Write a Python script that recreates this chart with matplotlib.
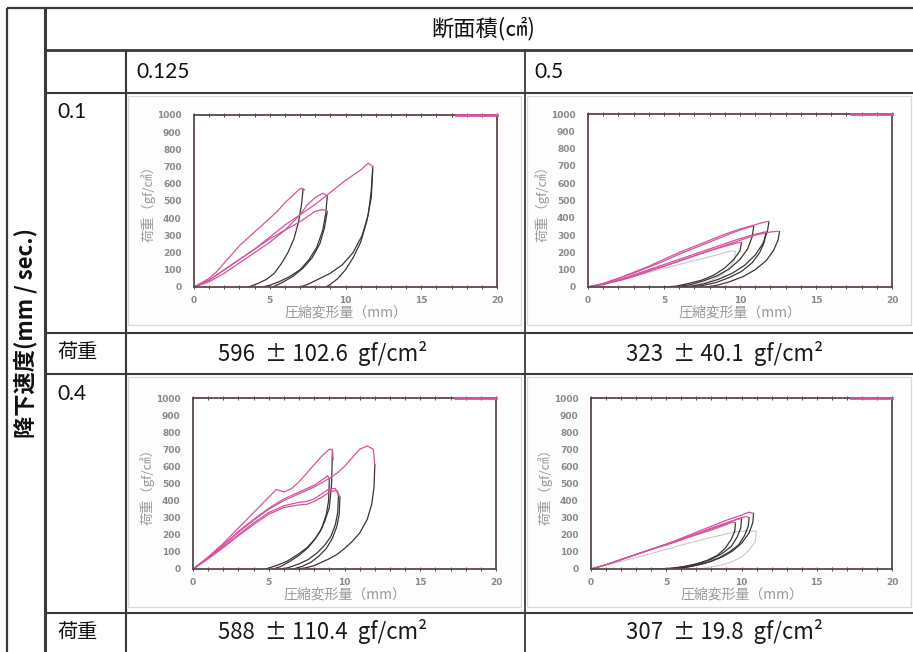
import matplotlib
matplotlib.use("Agg")
import matplotlib.pyplot as plt
from matplotlib.patches import Rectangle
from matplotlib.ticker import MultipleLocator

W, H = 913, 652

# ---------------- data ----------------
col_header = "断面積(㎠)"
row_header = "降下速度(mm / sec.)"
areas = ["0.125", "0.5"]
speeds = ["0.1", "0.4"]
load_label = "荷重"
load_values = [["596  ± 102.6  gf/cm²", "323  ± 40.1  gf/cm²"],
               ["588  ± 110.4  gf/cm²", "307  ± 19.8  gf/cm²"]]
x_label = "圧縮変形量（mm）"
y_label = "荷重（gf/㎠）"
x_ticks = [0, 5, 10, 15, 20]
y_ticks = [0, 100, 200, 300, 400, 500, 600, 700, 800, 900, 1000]
legend_x = [17.3, 20]
legend_y = [1000, 1000]

# panel: area 0.125, speed 0.1
p1_load = [
    ([0, 0.5, 1, 1.5, 2, 2.5, 3, 3.5, 4, 4.5, 5, 5.5, 6, 6.5, 6.9, 7.1, 7.3],
     [0, 25, 50, 90, 140, 190, 240, 280, 320, 360, 400, 440, 490, 530, 565, 575, 565]),
    ([0, 1, 2, 3, 4, 5, 6, 7, 7.5, 8, 8.5, 8.8],
     [0, 30, 80, 140, 200, 260, 330, 420, 480, 520, 545, 530]),
    ([0, 1, 2, 3, 4, 5, 6, 7, 7.5, 8, 8.5, 8.8],
     [0, 40, 100, 160, 220, 280, 330, 380, 410, 440, 450, 440]),
    ([0, 1, 2, 3, 4, 5, 6, 7, 8, 9, 10, 11, 11.5, 11.8],
     [0, 40, 100, 160, 220, 290, 360, 420, 480, 550, 620, 680, 720, 700]),
]
p1_unload = [
    ([7.2, 7.1, 6.9, 6.6, 6.2, 5.8, 5.3, 4.8, 4.2, 3.6],
     [570, 480, 380, 280, 200, 140, 80, 45, 20, 0]),
    ([8.8, 8.7, 8.5, 8.1, 7.6, 7.0, 6.3, 5.6, 5.0, 4.5],
     [530, 430, 330, 230, 160, 100, 60, 30, 10, 0]),
    ([8.8, 8.6, 8.3, 7.8, 7.2, 6.5, 5.8, 5.2],
     [440, 340, 250, 170, 110, 60, 25, 0]),
    ([11.8, 11.7, 11.5, 11.1, 10.5, 9.8, 9.0, 8.2, 7.5, 7.0],
     [700, 560, 420, 300, 200, 130, 80, 45, 15, 0]),
    ([11.8, 11.7, 11.4, 11.0, 10.5, 10.0, 9.5, 9.0, 8.7],
     [680, 520, 380, 260, 170, 100, 50, 15, 0]),
]
p1_gray = []

# panel: area 0.5, speed 0.1
p2_load = [
    ([0, 1, 2, 3, 4, 5, 6, 7, 8, 9, 10, 11, 11.6, 11.9],
     [0, 20, 50, 85, 120, 160, 200, 235, 270, 305, 335, 360, 375, 380]),
    ([0, 1, 2, 3, 4, 5, 6, 7, 8, 9, 10, 10.8],
     [0, 20, 50, 80, 115, 150, 190, 225, 260, 295, 330, 350]),
    ([0, 1, 2, 3, 4, 5, 6, 7, 8, 9, 10, 11, 12, 12.5],
     [0, 15, 40, 65, 95, 120, 150, 180, 210, 240, 270, 300, 318, 322]),
    ([0, 1, 2, 3, 4, 5, 6, 7, 8, 9, 10, 11, 11.6],
     [0, 15, 40, 70, 100, 130, 160, 190, 220, 250, 280, 305, 318]),
    ([0, 1, 2, 3, 4, 5, 6, 7, 8, 9, 9.8, 10.1],
     [0, 15, 35, 60, 90, 120, 150, 180, 210, 235, 255, 258]),
]
p2_unload = [
    ([11.9, 11.8, 11.5, 11.0, 10.3, 9.5, 8.6, 7.7, 6.8, 6.0],
     [375, 320, 250, 185, 125, 80, 45, 20, 5, 0]),
    ([10.9, 10.8, 10.5, 10, 9.3, 8.5, 7.6, 6.8, 6.0, 5.3],
     [350, 290, 220, 160, 105, 65, 35, 15, 3, 0]),
    ([12.6, 12.5, 12.2, 11.7, 11, 10.2, 9.3, 8.5, 7.8],
     [320, 270, 210, 150, 100, 60, 30, 10, 0]),
    ([11.7, 11.6, 11.3, 10.8, 10.1, 9.3, 8.4, 7.5, 6.8],
     [318, 260, 200, 140, 90, 55, 25, 8, 0]),
    ([10.1, 10.0, 9.6, 9.0, 8.3, 7.5, 6.6, 5.8, 5.0],
     [258, 210, 160, 110, 70, 40, 20, 5, 0]),
]
p2_gray = [
    ([0, 2, 4, 6, 8, 9.5, 9.7],
     [0, 40, 85, 130, 175, 210, 205]),
    ([9.7, 9.6, 9.2, 8.6, 7.9, 7.1, 6.3],
     [205, 150, 100, 60, 30, 10, 0]),
]

# panel: area 0.125, speed 0.4
p3_load = [
    ([0, 1, 2, 3, 4, 5, 5.5, 6, 6.5, 7, 7.5, 8, 8.5, 9, 9.2, 9.25],
     [0, 70, 150, 240, 330, 420, 465, 450, 470, 510, 560, 610, 660, 700, 700, 640]),
    ([0, 1, 2, 3, 4, 5, 6, 7, 8, 8.5, 8.9, 9.0],
     [0, 65, 140, 220, 290, 355, 410, 450, 490, 520, 545, 520]),
    ([0, 1, 2, 3, 4, 5, 6, 7, 8, 9, 9.5, 10, 10.5, 11, 11.5, 11.9, 12.0],
     [0, 65, 140, 215, 285, 350, 400, 440, 480, 530, 560, 600, 650, 700, 720, 700, 610]),
    ([0, 1, 2, 3, 4, 5, 6, 7, 7.5, 8, 8.5, 9, 9.4, 9.6],
     [0, 60, 130, 200, 270, 330, 370, 390, 395, 410, 440, 470, 470, 430]),
    ([0, 1, 2, 3, 4, 5, 6, 7, 7.5, 8, 8.5, 9, 9.5, 9.7],
     [0, 60, 125, 195, 260, 320, 360, 375, 378, 395, 420, 450, 460, 420]),
]
p3_unload = [
    ([9.2, 9.15, 9.0, 8.7, 8.4, 8.0, 7.5, 7.0, 6.2, 5.5, 4.8],
     [690, 500, 360, 280, 220, 170, 123, 90, 45, 20, 0]),
    ([9.0, 8.95, 8.8, 8.5, 8.1, 7.6, 7.0, 6.4, 5.8, 5.3],
     [520, 400, 320, 240, 180, 125, 80, 45, 15, 0]),
    ([12.0, 11.95, 11.8, 11.5, 11.0, 10.5, 10.0, 9.5, 9.0, 8.5, 8.0, 7.5, 7.0],
     [610, 480, 380, 290, 210, 160, 120, 85, 60, 40, 20, 8, 0]),
    ([9.6, 9.55, 9.4, 9.1, 8.7, 8.2, 7.6, 7.0, 6.3, 5.8],
     [430, 330, 260, 190, 140, 95, 55, 30, 8, 0]),
    ([9.7, 9.65, 9.5, 9.2, 8.8, 8.3, 7.8, 7.2, 6.6],
     [420, 320, 250, 180, 120, 75, 40, 15, 0]),
]
p3_gray = []

# panel: area 0.5, speed 0.4
p4_load = [
    ([0, 1, 2, 3, 4, 5, 6, 7, 8, 9, 10, 10.5, 10.8],
     [0, 25, 55, 85, 115, 145, 180, 215, 250, 285, 315, 332, 325]),
    ([0, 1, 2, 3, 4, 5, 6, 7, 8, 9, 9.8, 10.3, 10.5],
     [0, 25, 55, 85, 115, 145, 175, 205, 240, 270, 295, 307, 300]),
    ([0, 1, 2, 3, 4, 5, 6, 7, 8, 9, 9.7, 10.0],
     [0, 25, 55, 85, 115, 145, 175, 205, 235, 265, 290, 295]),
    ([0, 1, 2, 3, 4, 5, 6, 7, 8, 9, 9.4, 9.6],
     [0, 25, 55, 85, 115, 140, 170, 200, 228, 260, 275, 270]),
]
p4_unload = [
    ([10.8, 10.75, 10.5, 10.0, 9.4, 8.7, 8.0, 7.2, 6.3, 5.5, 4.8],
     [325, 270, 210, 150, 105, 70, 45, 25, 10, 3, 0]),
    ([10.5, 10.45, 10.2, 9.8, 9.2, 8.5, 7.8, 7.0, 6.2, 5.3, 4.5],
     [300, 250, 195, 140, 100, 65, 40, 22, 8, 2, 0]),
    ([10.0, 9.95, 9.7, 9.3, 8.7, 8.0, 7.3, 6.5, 5.7, 4.9, 4.2],
     [295, 240, 185, 130, 90, 57, 35, 18, 6, 1, 0]),
    ([9.6, 9.55, 9.3, 8.9, 8.4, 7.7, 7.0, 6.2, 5.4, 4.6, 3.9],
     [270, 220, 170, 120, 80, 50, 30, 15, 5, 1, 0]),
]
p4_gray = [
    ([0, 2, 4, 6, 8, 9.5, 10.5, 11],
     [0, 45, 90, 140, 185, 215, 225, 220]),
    ([11, 10.9, 10.5, 10, 9.3, 8.5, 7.5, 6.8],
     [220, 160, 110, 70, 40, 20, 5, 0]),
]

# ---------------- style ----------------
CJK = ["Noto Sans CJK JP", "DejaVu Sans"]
NUM = ["Lato", "DejaVu Sans"]
plt.rcParams["font.family"] = CJK

MAG = "#d6529c"
BLK = "#3b3535"
GRY = "#c8c8cc"
SPINE = "#5a4949"
LINE = "#3a3a3a"

fig = plt.figure(figsize=(W / 100, H / 100), dpi=100)
bg = fig.add_axes([0, 0, 1, 1])
bg.set_xlim(0, W)
bg.set_ylim(H, 0)
bg.axis("off")

def hline(y, x0, x1, lw=1.5):
    bg.plot([x0, x1], [y, y], color=LINE, lw=lw, solid_capstyle="butt")

def vline(x, y0, y1, lw=1.5):
    bg.plot([x, x], [y0, y1], color=LINE, lw=lw, solid_capstyle="butt")

# table grid
hline(8, 7, W, 1.6)
vline(7, 8, H, 1.6)
vline(45, 8, H, 2.2)
hline(50, 45, W, 2.0)
vline(126, 50, H, 1.5)
vline(525, 50, H, 1.3)
hline(93, 45, W, 1.5)
hline(333, 45, W, 1.5)
hline(374, 45, W, 1.5)
hline(613, 45, W, 1.5)

# chart image frames
for (x0, y0, x1, y1) in [(128, 96, 521, 325), (527, 96, 911, 325),
                         (128, 377, 521, 607), (527, 377, 911, 607)]:
    bg.add_patch(Rectangle((x0, y0), x1 - x0, y1 - y0, fill=True,
                           facecolor="#fdfdfe", edgecolor="#d9d9dc", lw=0.9))

# texts
bg.text(483, 29, col_header, ha="center", va="center", fontsize=16,
        family=CJK, color="#111")
bg.text(26, 333, row_header, ha="center", va="center", fontsize=16,
        family=CJK, fontweight="bold", rotation=90, color="#111")
bg.text(136, 72, areas[0], ha="left", va="center", fontsize=15, family=NUM, color="#111")
bg.text(534, 72, areas[1], ha="left", va="center", fontsize=15, family=NUM, color="#111")
bg.text(57, 112, speeds[0], ha="left", va="center", fontsize=15, family=NUM, color="#111")
bg.text(57, 394, speeds[1], ha="left", va="center", fontsize=15, family=NUM, color="#111")
for yy in (353, 633):
    bg.text(57, yy, load_label, ha="left", va="center", fontsize=14.5, family=CJK, color="#111")
cx = [323, 725]
cy = [353, 632]
for r in range(2):
    for c in range(2):
        bg.text(cx[c], cy[r], load_values[r][c], ha="center", va="center",
                fontsize=16, color="#1a1a1a", family=CJK)

# chart axes
def px_axes(x0, y0, x1, y1):
    return fig.add_axes([x0 / W, 1 - y1 / H, (x1 - x0) / W, (y1 - y0) / H])

panels = [
    ((194, 115, 497, 287), p1_load, p1_unload, p1_gray),
    ((588, 114, 892, 287), p2_load, p2_unload, p2_gray),
    ((193, 398, 496, 569), p3_load, p3_unload, p3_gray),
    ((591, 398, 892, 569), p4_load, p4_unload, p4_gray),
]
for box, loads, unloads, grays in panels:
    ax = px_axes(*box)
    ax.set_facecolor("white")
    for xs, ys in grays:
        ax.plot(xs, ys, color=GRY, lw=0.8)
    for xs, ys in unloads:
        ax.plot(xs, ys, color=BLK, lw=0.9)
    for xs, ys in loads:
        ax.plot(xs, ys, color=MAG, lw=0.9)
    ax.plot(legend_x, legend_y, color=MAG, lw=2.0, clip_on=False, zorder=5)
    ax.set_xlim(0, 20)
    ax.set_ylim(0, 1000)
    ax.set_xticks(x_ticks)
    ax.set_yticks(y_ticks)
    ax.xaxis.set_minor_locator(MultipleLocator(1))
    for s in ax.spines.values():
        s.set_color(SPINE)
        s.set_linewidth(1.3)
    ax.tick_params(axis="x", which="both", direction="inout", top=True, bottom=True,
                   color=SPINE, length=3, width=0.7, labelsize=6.5, labelcolor="#8a8a8a",
                   pad=5)
    ax.tick_params(axis="y", length=0, labelsize=6.5, labelcolor="#8a8a8a", pad=9)
    for lab in ax.get_xticklabels() + ax.get_yticklabels():
        lab.set_fontfamily("DejaVu Sans")
        lab.set_fontweight("bold")
    ax.set_xlabel(x_label, fontsize=10, color="#9a9a9a", labelpad=0, family=CJK)
    ax.set_ylabel(y_label, fontsize=9.5, color="#9a9a9a", labelpad=1, family=CJK)

fig.savefig("out.png", dpi=100)
